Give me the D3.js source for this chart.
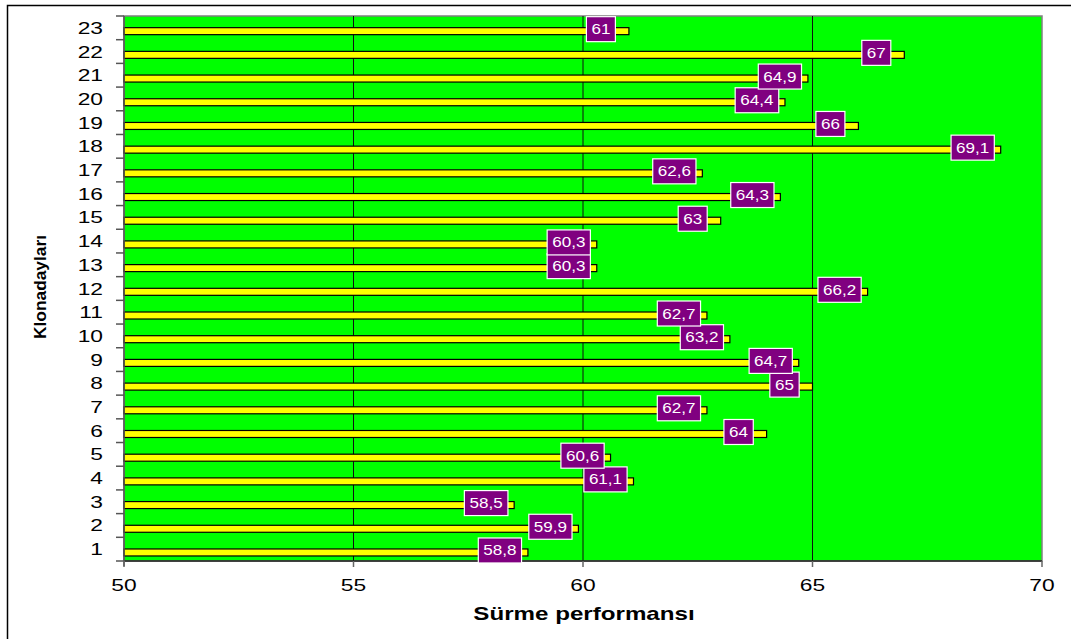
<!DOCTYPE html>
<html>
<head>
<meta charset="UTF-8">
<script src="https://cdn.jsdelivr.net/npm/d3@7"></script>
<style>
  body { margin: 0; background: #fff; }
  text { font-family: Arial, "Liberation Sans", sans-serif; }
</style>
</head>
<body>
<div id="chart"></div>
<script>
// klon adaylari ve surme performansi
const categories = ['1','2','3','4','5','6','7','8','9','10','11','12','13','14','15','16','17','18','19','20','21','22','23'];
const values = [58.8, 59.9, 58.5, 61.1, 60.6, 64, 62.7, 65, 64.7, 63.2, 62.7, 66.2, 60.3, 60.3, 63, 64.3, 62.6, 69.1, 66, 64.4, 64.9, 67, 61];
const xTicks = [50, 55, 60, 65, 70];
const gridVals = [55, 60, 65];

const W = 1071, H = 639;
const m = {left: 124, top: 16, right: 1042, bottom: 561};
const sx = 1.38; // yazilar yatayda genis

const svg = d3.select('#chart').append('svg').attr('width', W).attr('height', H);

// dis cerceve
svg.append('rect').attr('x', 7.5).attr('y', 5.5).attr('width', W + 10).attr('height', H + 10)
  .attr('fill', 'none').attr('stroke', '#000').attr('stroke-width', 1.5);

const x = d3.scaleLinear().domain([50, 70]).range([m.left, m.right]);
const y = d3.scaleBand().domain(categories.slice().reverse()).range([m.top, m.bottom]);

// plot alani
svg.append('rect').attr('x', m.left).attr('y', m.top).attr('width', m.right - m.left).attr('height', m.bottom - m.top)
  .attr('fill', '#00ff00').attr('stroke', '#808080').attr('stroke-width', 1.5);

svg.selectAll('.grid').data(gridVals).enter().append('line')
  .attr('x1', d => x(d)).attr('x2', d => x(d)).attr('y1', m.top).attr('y2', m.bottom)
  .attr('stroke', '#111').attr('stroke-width', 1);

const data = categories.map((c, i) => ({c, v: values[i]}));
const barH = 7;
const barY = d => y(d.c) + y.bandwidth() * 0.64 - barH / 2;

svg.selectAll('.bar').data(data).enter().append('rect')
  .attr('x', x(50)).attr('y', barY).attr('width', d => x(d.v) - x(50)).attr('height', barH)
  .attr('fill', '#ffff00').attr('stroke', '#000').attr('stroke-width', 1.2);

// eksen cizgileri
svg.append('line').attr('x1', m.left).attr('x2', m.right).attr('y1', m.bottom).attr('y2', m.bottom)
  .attr('stroke', '#222').attr('stroke-width', 1.5);
svg.append('line').attr('x1', m.left).attr('x2', m.left).attr('y1', m.top).attr('y2', m.bottom + 5)
  .attr('stroke', '#555').attr('stroke-width', 1.5);

// y tikler (kategori sinirlari)
const yb = d3.range(categories.length + 1).map(i => m.top + i * y.step());
svg.selectAll('.yt').data(yb).enter().append('line')
  .attr('x1', m.left - 8).attr('x2', m.left).attr('y1', d => d).attr('y2', d => d)
  .attr('stroke', '#555').attr('stroke-width', 1.5);

svg.selectAll('.yl').data(categories).enter().append('text')
  .attr('transform', d => `translate(103,${y(d) + y.bandwidth() / 2 + 6}) scale(${sx},1)`)
  .attr('text-anchor', 'end').attr('font-size', 16.5).attr('fill', '#000').text(d => d);

// x tikler
svg.selectAll('.xt').data(xTicks).enter().append('line')
  .attr('x1', d => x(d)).attr('x2', d => x(d)).attr('y1', m.bottom).attr('y2', m.bottom + 6)
  .attr('stroke', '#666').attr('stroke-width', 1.5);

svg.selectAll('.xl').data(xTicks).enter().append('text')
  .attr('transform', d => `translate(${x(d)},${591}) scale(${sx},1)`)
  .attr('text-anchor', 'middle').attr('font-size', 16.5).attr('fill', '#000').text(d => d);

// eksen basliklari
svg.append('text').attr('transform', `translate(584,620) scale(${sx},1)`)
  .attr('text-anchor', 'middle').attr('font-size', 17.5).attr('font-weight', 'bold').text('Sürme performansı');

svg.append('text').attr('transform', 'translate(46,287) rotate(-90)')
  .attr('text-anchor', 'middle').attr('font-size', 16).attr('font-weight', 'bold')
  .attr('textLength', 104).attr('lengthAdjust', 'spacingAndGlyphs').text('Klonadayları');

// deger etiketleri
const fmt = v => String(v).replace('.', ',');
const lab = svg.selectAll('.lab').data(data).enter().append('g')
  .attr('transform', d => `translate(${x(d.v) - 28},${barY(d) + barH / 2 - 2})`);
lab.append('text').attr('class', 'lt')
  .attr('transform', 'scale(1.22,1)')
  .attr('text-anchor', 'middle').attr('y', 5).attr('font-size', 14).attr('fill', '#fff').text(d => fmt(d.v));
lab.each(function() {
  const g = d3.select(this);
  const t = g.select('text');
  const w = t.node().getBBox().width * 1.22 + 10;
  g.insert('rect', 'text').attr('x', -w / 2).attr('y', -12.5).attr('width', w).attr('height', 25)
    .attr('fill', '#800080').attr('stroke', '#fff').attr('stroke-width', 1.2);
});
</script>
</body>
</html>
